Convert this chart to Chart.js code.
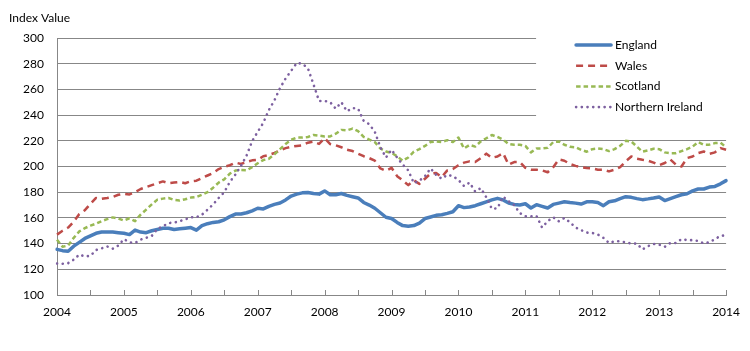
<!DOCTYPE html>
<html>
<head>
<meta charset="utf-8">
<script src="https://cdn.jsdelivr.net/npm/chart.js@4/dist/chart.umd.min.js"></script>
<style>
html,body{margin:0;padding:0;background:#fff;}
#wrap{width:750px;height:351px;position:relative;}
</style>
</head>
<body>
<div id="wrap"><canvas id="c" width="750" height="351"></canvas></div>
<script>
// ---- data (monthly, Jan 2004 .. Jan 2014) ----
const yearLabels = ['2004','2005','2006','2007','2008','2009','2010','2011','2012','2013','2014'];
const monthNames = ['Jan','Feb','Mar','Apr','May','Jun','Jul','Aug','Sep','Oct','Nov','Dec'];
const categories = [];
for (let y = 0; y < yearLabels.length; y++) {
  for (let m = 0; m < 12; m++) {
    if (y === yearLabels.length - 1 && m > 0) break;
    categories.push(monthNames[m] + ' ' + yearLabels[y]);
  }
}
const seriesNames = ['England','Wales','Scotland','Northern Ireland'];
const england = [
 135.5,134.5,134,138,141,144,146,148,149,149,149,148.5,
 148,147,150.5,149,148.5,150,151,152,152,151,151.5,152,
 152.5,150.5,154,155.5,156.5,157,158.5,161,163,163,164,165.5,
 167.5,167,169,170.5,171.6,174,177,178.5,179.5,179.8,179,178.5,
 181,178,178,179,177.5,176.5,175.5,172,170,167.5,164,160.5,
 159.5,156.5,154,153.5,154,156,159.5,160.7,162,162.5,163.5,164.8,
 169.5,168,168.5,169.5,171,172.5,174,175.2,174,171.6,170.5,170,
 171,167.7,170.3,169,167.7,170.5,171.5,172.6,172,171.5,170.8,172.5,
 172.5,172,169.5,172.6,173.3,175,176.5,176,175,174.2,174.8,175.5,
 176.3,173.5,175,176.5,178,178.8,181,182.5,182.5,184,184.5,186.5,
 189];
const wales = [
 147,150,152.5,157,163,166,171,175.5,174.8,175.5,176.3,178,
 178.8,178.3,180,182.5,184,185.5,187,188.4,187,187.5,188,187,
 188.5,189,191,193,195,198,199.8,201,203,202,203.5,204.8,
 205.2,208,209,210.5,212.5,214.3,215.3,216,216.5,218.5,219.4,217.6,
 222,217.5,216.5,215,213,212,210,208,206.5,204.5,198.5,196.7,
 199,192.5,189.2,185.5,189.2,186.5,190.5,194.5,195,191.8,197,198,
 201,203,204,203.5,206.5,210,206.8,207.8,210.4,201.4,203.5,203.5,
 199,197.5,197.5,197,195.5,199.5,205.5,204.5,202,200.5,199.5,198.8,
 198.5,197.5,197.5,196.2,197.5,199.5,204,207.8,206,205.2,204.5,203,
 201,202.7,205.5,201.5,200,206.6,207.8,210.4,211.7,209.9,211,214.3,
 213];
const scotland = [
 143,137.5,138.5,144.5,149.5,152,154,155.5,157.5,159,160.4,159.5,
 158,159.7,157.5,162.5,166.5,170.5,174.2,175,175.5,174,173.5,174.5,
 175.8,176.3,178,180,183.5,187.5,190,194.5,196.8,197.2,197,199.5,
 202.5,205,206,209.5,213.5,217.5,220.8,222.5,222.5,223,224.5,224,
 223.4,223.4,225.5,228.5,228.1,229.5,227.5,223,221,219,214,211.7,
 210.6,208,204.5,207,211.5,213.5,216,219,219.5,219,220.5,219,
 222.5,214,216.8,215.5,219.5,222,224.5,223,221,217.5,216.9,216.9,
 216,211,214,214,214.5,219,219.5,216.9,215.3,215,213,211.5,
 213.5,214,213.5,212,213.5,216,220,219.5,215.5,211.5,212.5,213.8,
 213.5,211,210.4,210.4,212,213.5,215.5,219,217,217,218.2,218.5,
 215];
const northernIreland = [
 124.5,124.3,124.8,127.5,131.5,130,130.5,135,136.3,137.8,136,138.5,
 143.5,141,140.5,143.1,144.5,146,151.5,153.5,156,156.3,157.5,158.8,
 160.5,160.5,162.5,166.4,170.5,175.5,180,188,193.8,200.5,208.5,219.8,
 227,234,244,251.5,261,268.5,274.5,280.5,280,276.5,264,251,
 251,250,245,250,243,245.5,245,235.5,233,227,215,207,
 213,207,201.5,197,187,189,192.5,198.5,193.5,190.5,193.5,192.5,
 189.5,184.8,187.5,180.5,183.2,176,167,167.5,176.5,173,170,163.8,
 161.2,161.2,161.5,152.5,157.5,160.5,157.4,159.9,156.6,152.5,150.5,148.6,
 148.3,147,144.5,140.5,141.8,141.8,141,140,140,135.5,138,139.7,
 139.2,137.5,140.5,140.5,143.5,142.7,142.7,142,140.2,141,143.5,146,
 146.5];
const yMin = 100, yMax = 300, yStep = 20;
const axisTitle = 'Index Value';

// ---- styles ----
const FONT = 'Lato, "Open Sans", sans-serif';
const GRID = '#878787';
const styles = [
  {color:'#4A7EBB', width:3.5, dash:[], cap:'round'},
  {color:'#BE4B48', width:2.5, dash:[7,5], cap:'butt'},
  {color:'#98B954', width:2.5, dash:[4.5,3], cap:'butt'},
  {color:'#7D60A0', width:2.6, dash:[0.1,5.6], cap:'round'}
];
const seriesData = [england, wales, scotland, northernIreland];

const datasets = seriesNames.map((n, i) => ({
  label: n,
  data: seriesData[i],
  borderColor: styles[i].color,
  backgroundColor: styles[i].color,
  borderWidth: styles[i].width,
  borderDash: styles[i].dash,
  borderCapStyle: styles[i].cap,
  borderJoinStyle: 'round',
  pointRadius: 0,
  pointHoverRadius: 0,
  tension: 0,
  fill: false,
  order: seriesNames.length - i
}));

const decor = {
  id: 'decor',
  beforeDatasetsDraw(chart) {
    const ctx = chart.ctx, ca = chart.chartArea, xs = chart.scales.x;
    ctx.save();
    // inside tick marks every 6 months
    ctx.strokeStyle = GRID; ctx.lineWidth = 1;
    for (let i = 0; i < categories.length; i += 6) {
      const x = Math.round(xs.getPixelForValue(i)) + 0.5;
      ctx.beginPath(); ctx.moveTo(x, ca.bottom); ctx.lineTo(x, ca.bottom - 5); ctx.stroke();
    }
    // legend box
    const lx = ca.right - 190, ly = ca.top - 10;
    ctx.fillStyle = '#fff';
    ctx.fillRect(lx, ly, 200, 92);
    seriesNames.forEach((n, i) => {
      const y = ca.top + 7 + i * 20.7;
      const s = styles[i];
      ctx.strokeStyle = s.color; ctx.lineWidth = s.width;
      ctx.setLineDash(s.dash); ctx.lineCap = s.cap;
      ctx.beginPath(); ctx.moveTo(ca.right - 150, y); ctx.lineTo(ca.right - 115, y); ctx.stroke();
      ctx.setLineDash([]);
      ctx.fillStyle = '#000'; ctx.font = '12px ' + FONT;
      ctx.textBaseline = 'middle'; ctx.textAlign = 'left';
      ctx.fillText(n, ca.right - 111, y);
    });
    // axis title
    ctx.fillStyle = '#000'; ctx.font = '12px ' + FONT;
    ctx.textBaseline = 'alphabetic'; ctx.textAlign = 'left';
    ctx.fillText(axisTitle, 9, 22);
    ctx.restore();
  }
};

new Chart(document.getElementById('c'), {
  type: 'line',
  data: { labels: categories, datasets },
  options: {
    responsive: false,
    animation: false,
    devicePixelRatio: 1,
    layout: { padding: { top: 38, right: 20, left: 0, bottom: 0 } },
    plugins: { legend: { display: false }, tooltip: { enabled: false }, title: { display: false } },
    scales: {
      x: {
        type: 'category',
        offset: false,
        grid: { display: false, drawTicks: false },
        border: { display: true, color: GRID, width: 1 },
        ticks: {
          autoSkip: false, maxRotation: 0, minRotation: 0, padding: 10,
          color: '#000', font: { family: FONT, size: 12 },
          callback: (v, i) => (i % 12 === 0 ? yearLabels[i / 12] : '')
        },
        afterFit: s => { s.height = 56; }
      },
      y: {
        min: yMin, max: yMax,
        grid: { color: GRID, lineWidth: 1, drawTicks: false },
        border: { display: true, color: GRID, width: 1 },
        ticks: { stepSize: yStep, padding: 13, color: '#000', font: { family: FONT, size: 12 } },
        afterFit: s => { s.width = 57; }
      }
    }
  },
  plugins: [decor]
});
</script>
</body>
</html>
